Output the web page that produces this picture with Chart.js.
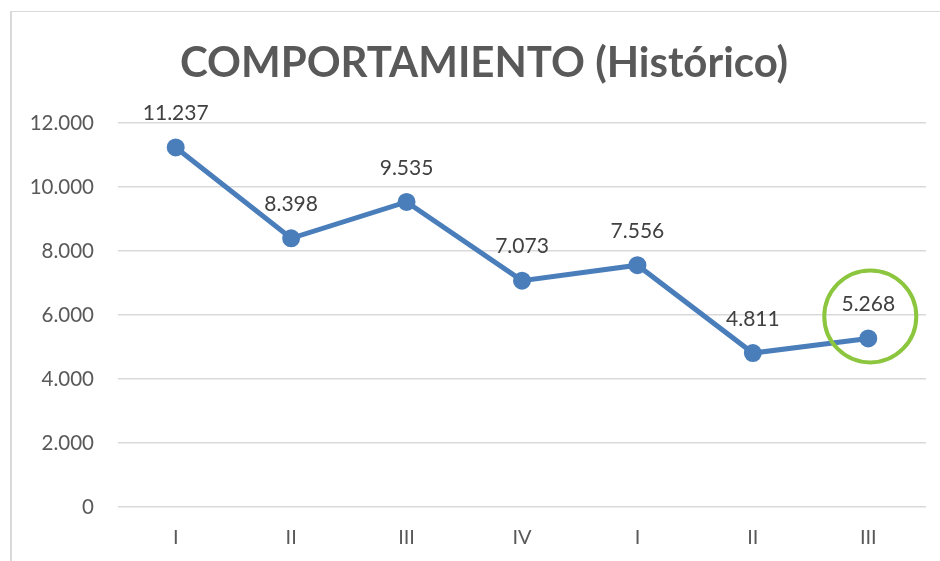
<!DOCTYPE html>
<html>
<head>
<meta charset="utf-8">
<script src="https://cdn.jsdelivr.net/npm/chart.js@4/dist/chart.umd.min.js"></script>
<style>
  html, body { margin: 0; padding: 0; background: #ffffff; }
  #wrap { position: relative; width: 940px; height: 561px; }
  #frame { position: absolute; left: 10px; top: 11px; right: 0; bottom: 0;
           border-left: 2px solid #d9d9d9; border-top: 1px solid #d9d9d9; }
  canvas { position: absolute; left: 0; top: 0; }
</style>
</head>
<body>
<div id="wrap">
  <div id="frame"></div>
  <canvas id="c" width="940" height="561"></canvas>
</div>
<script>
const titleText = "COMPORTAMIENTO (Histórico)";
const categories = ["I", "II", "III", "IV", "I", "II", "III"];
const values = [11237, 8398, 9535, 7073, 7556, 4811, 5268];
const yTicks = [0, 2000, 4000, 6000, 8000, 10000, 12000];
const highlightIndex = 6;

const fmt = v => v.toLocaleString('de-DE');

const titlePlugin = {
  id: 'chartTitle',
  afterDraw(chart) {
    const ctx = chart.ctx;
    ctx.save();
    ctx.font = 'bold 42px Lato';
    ctx.fillStyle = '#595959';
    ctx.textAlign = 'center';
    ctx.textBaseline = 'middle';
    ctx.fillText(titleText, 484, 63);
    ctx.restore();
  }
};

const labelPlugin = {
  id: 'dataLabels',
  afterDatasetsDraw(chart) {
    const ctx = chart.ctx;
    const meta = chart.getDatasetMeta(0);
    ctx.save();
    ctx.font = '21px Lato';
    ctx.fillStyle = '#404040';
    ctx.textAlign = 'center';
    ctx.textBaseline = 'middle';
    meta.data.forEach((pt, i) => {
      ctx.fillText(fmt(values[i]), pt.x, pt.y - 34);
    });
    const hp = meta.data[highlightIndex];
    ctx.beginPath();
    ctx.strokeStyle = '#8cc63f';
    ctx.lineWidth = 4;
    ctx.arc(hp.x + 2, hp.y - 22, 46, 0, Math.PI * 2);
    ctx.stroke();
    ctx.restore();
  }
};

new Chart(document.getElementById('c'), {
  type: 'line',
  data: {
    labels: categories,
    datasets: [{
      data: values,
      borderColor: '#4a7ebb',
      backgroundColor: '#4a7ebb',
      borderWidth: 5,
      pointRadius: 6.5,
      pointHoverRadius: 6.5,
      pointBackgroundColor: '#4a7ebb',
      pointBorderColor: '#4a7ebb',
      tension: 0
    }]
  },
  options: {
    responsive: false,
    animation: false,
    events: [],
    layout: { padding: { left: 12, right: 14, top: 123, bottom: 12 } },
    plugins: {
      legend: { display: false },
      tooltip: { enabled: false },
      title: { display: false }
    },
    scales: {
      x: {
        offset: true,
        afterFit(scale) { scale.height = 42; },
        grid: { display: false, drawTicks: false },
        border: { display: false },
        ticks: { color: '#595959', font: { family: 'Lato', size: 20 }, padding: 19 }
      },
      y: {
        min: 0,
        max: 12000,
        afterFit(scale) { scale.width = 106; },
        afterBuildTicks(scale) { scale.ticks = yTicks.map(v => ({ value: v })); },
        grid: { color: '#d9d9d9', lineWidth: 1.5, drawTicks: false },
        border: { display: false },
        ticks: { color: '#595959', font: { family: 'Lato', size: 20.5 }, padding: 24,
                 callback: v => fmt(v) }
      }
    }
  },
  plugins: [labelPlugin, titlePlugin]
});
</script>
</body>
</html>
